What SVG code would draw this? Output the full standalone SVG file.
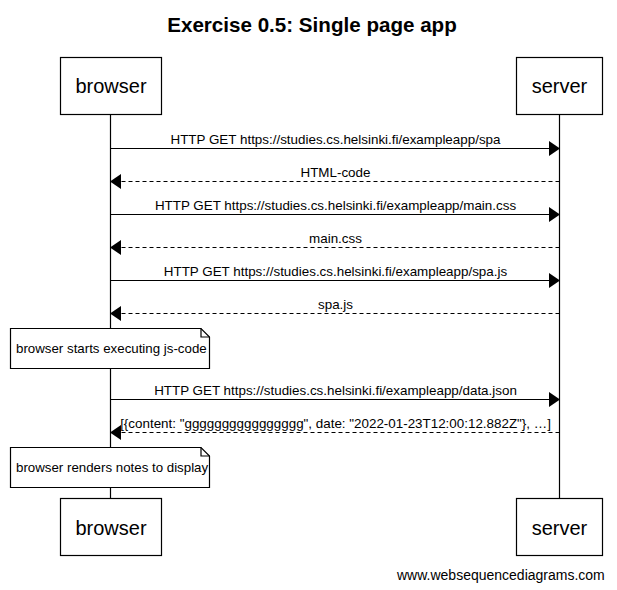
<svg xmlns="http://www.w3.org/2000/svg" width="617" height="590" viewBox="0 0 617 590">
<style>
text{font-family:"Liberation Sans",Arial,sans-serif;fill:#000}
.title{font-size:20.6px;font-weight:bold;text-anchor:middle}
.part{font-size:20px;text-anchor:middle}
.msg{font-size:13.4px;text-anchor:middle}
.note{font-size:13.3px}
.wm{font-size:14px}
.box{fill:#fff;stroke:#000;stroke-width:1.2}
.life{stroke:#000;stroke-width:1.2;fill:none}
.sol{stroke:#000;stroke-width:1.2;fill:none}
.dash{stroke:#000;stroke-width:1.2;fill:none;stroke-dasharray:4,3}
.head{fill:#000;stroke:none}
</style>
<rect width="617" height="590" fill="#fff"/>
<text class="title" x="312" y="32">Exercise 0.5: Single page app</text>
<g id="lifelines">
<line class="life" x1="110.5" y1="114" x2="110.5" y2="499"/>
<line class="life" x1="559.5" y1="114" x2="559.5" y2="499"/>
</g>
<g id="browser">
<rect class="box" x="60.5" y="57.5" width="101" height="57"/>
<text class="part" x="111" y="93">browser</text>
</g>
<g id="server">
<rect class="box" x="516.5" y="57.5" width="86" height="57"/>
<text class="part" x="559.5" y="93">server</text>
</g>
<g id="browser-bottom">
<rect class="box" x="60.5" y="498.5" width="101" height="57"/>
<text class="part" x="111" y="535">browser</text>
</g>
<g id="server-bottom">
<rect class="box" x="516.5" y="498.5" width="86" height="57"/>
<text class="part" x="559.5" y="535">server</text>
</g>
<g id="connectors">
<line class="sol" x1="110.5" y1="148.5" x2="549" y2="148.5"/>
<polygon class="head" points="549,141 560,148.5 549,156"/>
<text class="msg" x="335.5" y="144">HTTP GET https://studies.cs.helsinki.fi/exampleapp/spa</text>

<line class="dash" x1="559.5" y1="181.5" x2="121" y2="181.5"/>
<polygon class="head" points="121,174 110,181.5 121,189"/>
<text class="msg" x="335.5" y="177">HTML-code</text>

<line class="sol" x1="110.5" y1="214.5" x2="549" y2="214.5"/>
<polygon class="head" points="549,207 560,214.5 549,222"/>
<text class="msg" x="335.5" y="210">HTTP GET https://studies.cs.helsinki.fi/exampleapp/main.css</text>

<line class="dash" x1="559.5" y1="247.5" x2="121" y2="247.5"/>
<polygon class="head" points="121,240 110,247.5 121,255"/>
<text class="msg" x="335.5" y="243">main.css</text>

<line class="sol" x1="110.5" y1="280.5" x2="549" y2="280.5"/>
<polygon class="head" points="549,273 560,280.5 549,288"/>
<text class="msg" x="335.5" y="276">HTTP GET https://studies.cs.helsinki.fi/exampleapp/spa.js</text>

<line class="dash" x1="559.5" y1="313.5" x2="121" y2="313.5"/>
<polygon class="head" points="121,306 110,313.5 121,321"/>
<text class="msg" x="335.5" y="309">spa.js</text>

<line class="sol" x1="110.5" y1="399.5" x2="549" y2="399.5"/>
<polygon class="head" points="549,392 560,399.5 549,407"/>
<text class="msg" x="335.5" y="395">HTTP GET https://studies.cs.helsinki.fi/exampleapp/data.json</text>

<line class="dash" x1="559.5" y1="432.5" x2="121" y2="432.5"/>
<polygon class="head" points="121,425 110,432.5 121,440"/>
<text class="msg" x="335.5" y="428">[{content: "gggggggggggggggg", date: "2022-01-23T12:00:12.882Z"}, …]</text>
</g>
<g id="note1">
<path class="box" d="M10.5,328.5 H201 L209.5,337 V368.5 H10.5 Z"/>
<path class="sol" d="M201,328.5 V337 H209.5"/>
<text class="note" x="16" y="353">browser starts executing js-code</text>
</g>
<g id="note2">
<path class="box" d="M10.5,447.5 H201 L209.5,456 V487.5 H10.5 Z"/>
<path class="sol" d="M201,447.5 V456 H209.5"/>
<text class="note" x="16" y="472">browser renders notes to display</text>
</g>
<text class="wm" x="397" y="580">www.websequencediagrams.com</text>
</svg>
